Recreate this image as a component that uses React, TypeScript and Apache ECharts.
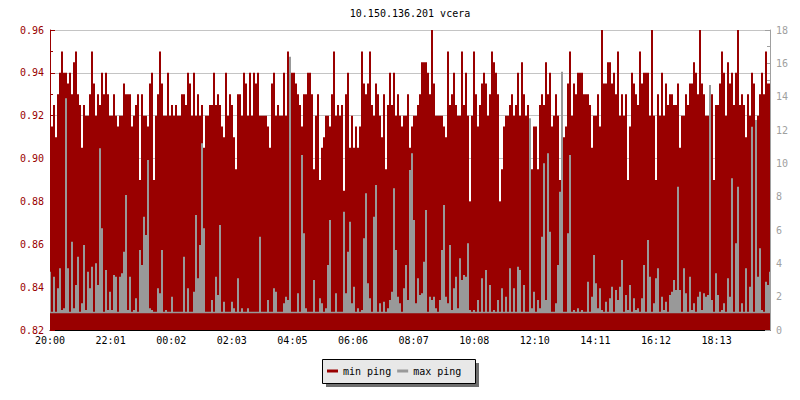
import React, { useEffect, useRef } from "react";
import * as echarts from "echarts";

const TITLE = "10.150.136.201 vcera";
const SERIES_NAMES = ["min ping", "max ping"];
const X_TICK_LABELS = [
  "20:00", "22:01", "00:02", "02:03", "04:05", "06:06",
  "08:07", "10:08", "12:10", "14:11", "16:12", "18:13",
];
const SPAN_MINUTES = 1440;
const TICK_STEP_MINUTES = 121.2;
const MAX_PING_FLOOR = 1.0;

// min ping, in microseconds (one sample every 4 minutes)
const MIN_PING_US = [
  940,915,925,910,930,940,950,940,940,935,
  940,930,945,950,930,925,905,925,920,920,
  930,950,935,920,930,925,940,930,940,930,
  920,920,930,920,915,920,920,935,930,930,
  930,915,920,925,930,890,930,920,920,915,
  935,940,890,920,930,950,935,920,920,940,
  920,925,920,925,920,920,930,930,925,940,
  935,920,940,920,930,920,925,905,920,920,
  925,925,940,925,930,925,915,910,940,920,
  930,925,910,895,930,930,920,940,935,920,
  940,920,940,935,940,920,920,920,920,915,
  905,935,940,920,925,920,920,940,920,950,
  915,940,940,935,930,925,915,930,930,940,
  940,930,895,920,930,890,905,910,920,920,
  915,930,950,920,925,920,925,885,930,940,
  905,920,905,915,905,915,950,935,930,935,
  950,925,920,935,930,920,910,930,895,925,
  940,925,940,920,930,920,915,920,920,930,
  905,915,920,920,925,930,945,945,945,940,
  930,960,935,920,920,920,920,915,910,950,
  925,930,940,925,920,920,950,925,940,920,
  880,920,950,930,915,925,935,940,935,920,
  930,950,945,940,930,880,895,915,920,920,
  925,930,920,925,940,920,945,930,920,925,
  915,895,915,915,895,925,930,925,945,930,
  940,915,920,930,920,890,905,910,915,935,
  950,920,935,930,940,940,940,930,930,930,
  925,905,920,920,930,915,960,935,935,945,
  945,935,940,930,950,920,930,920,930,890,
  915,940,935,930,925,950,935,940,940,940,
  920,960,920,890,930,920,940,920,935,925,
  930,930,925,925,935,905,920,920,930,925,
  935,935,945,940,930,960,935,930,920,920,
  920,930,890,925,925,935,950,940,920,945,
  935,940,925,940,960,925,930,925,910,930,
  920,940,935,915,920,930,940,930,950,935,
  935,
];

// max ping, in milliseconds (one sample every 4 minutes)
const MAX_PING_MS = [
  3.5,1.1,3.2,1.1,2.5,3.7,1.2,1.3,13.9,3.7,
  1.1,5.3,1.3,2.7,4.4,1.1,1.6,5.1,1.2,3.5,
  2.5,3.8,1.1,4.0,2.7,10.9,6.1,1.1,3.6,1.2,
  2.3,1.2,3.3,3.2,1.1,3.2,3.4,4.7,8.1,1.2,
  3.2,1.1,1.2,1.9,1.1,4.8,3.9,6.8,5.7,10.2,
  1.3,1.2,1.1,1.1,2.5,2.2,4.8,1.1,1.2,1.1,
  1.1,2.0,1.1,1.1,1.1,1.1,1.1,4.4,1.1,2.5,
  1.1,1.1,2.3,6.9,3.1,5.1,11.2,6.1,1.1,1.1,
  1.1,1.8,1.1,3.2,2.1,6.3,1.1,1.7,1.1,1.1,
  1.1,1.7,1.3,1.1,3.1,1.1,1.3,1.1,1.1,1.3,
  1.1,1.1,1.1,1.1,1.1,5.6,1.1,1.1,1.1,1.8,
  1.1,1.1,2.5,2.3,1.1,1.1,1.1,1.6,2.0,1.8,
  16.4,1.1,1.1,1.1,2.2,1.1,10.5,5.8,1.3,1.1,
  1.1,1.1,3.0,1.1,1.1,1.9,1.6,1.1,1.3,3.9,
  6.6,1.1,1.1,2.2,1.1,1.1,1.1,7.1,2.2,4.7,
  6.5,1.6,2.6,1.1,1.3,1.1,1.2,5.5,8.2,2.8,
  1.9,1.1,6.8,8.7,1.1,1.6,1.1,1.7,1.1,1.3,
  1.8,2.3,8.5,4.8,2.0,1.6,1.1,2.5,3.9,1.8,
  9.6,10.6,6.6,1.6,3.1,2.1,2.2,4.1,7.2,1.1,
  2.0,1.8,2.0,1.3,1.1,1.8,4.8,7.5,2.0,1.6,
  5.1,1.2,2.5,3.2,1.3,4.3,3.0,3.3,3.2,5.2,
  1.2,1.1,1.2,1.1,1.8,1.1,3.1,1.1,3.6,1.1,
  2.7,1.1,1.2,1.1,1.8,1.1,2.5,1.1,2.0,1.1,
  3.7,1.1,2.5,1.1,3.8,3.6,1.1,2.7,1.1,1.1,
  12.7,1.3,2.3,1.1,1.8,1.3,5.6,10.0,1.8,10.6,
  5.9,1.1,1.1,1.6,3.9,8.3,15.5,1.1,1.1,5.8,
  10.5,1.1,1.2,1.1,1.3,1.1,1.2,1.1,1.1,2.9,
  1.1,2.0,4.5,2.8,1.3,2.5,1.2,1.1,1.7,1.1,
  1.9,2.6,1.1,2.4,1.8,2.6,4.2,1.1,2.1,1.2,
  2.7,1.1,1.9,1.2,1.3,1.1,1.9,3.9,1.1,5.4,
  3.2,1.1,1.6,3.1,3.7,1.1,2.0,1.2,1.7,1.1,
  2.1,2.3,3.0,2.4,8.6,2.4,1.1,3.7,2.2,1.1,
  3.2,1.2,1.6,1.1,2.0,2.3,1.2,2.2,2.0,2.1,
  14.7,1.8,1.1,3.4,2.1,1.1,1.2,1.6,1.1,3.1,
  2.0,9.1,1.1,5.2,8.6,1.1,1.6,1.1,3.7,1.1,
  2.6,12.2,1.1,12.6,3.2,4.9,1.2,1.1,2.9,2.7,
  3.5,
];

const FONT = '"DejaVu Sans Mono", monospace';
const RED = "#990000";
const GRAY = "#999999";

export default function App() {
  const ref = useRef<HTMLDivElement>(null);

  useEffect(() => {
    if (!ref.current) return;
    const chart = echarts.init(ref.current, null, { renderer: "svg" });

    const stepMin = SPAN_MINUTES / (MIN_PING_US.length - 1);
    const minData = MIN_PING_US.map((v, i) => [i * stepMin, v / 1000]);
    const stepMax = SPAN_MINUTES / (MAX_PING_MS.length - 1);
    const maxData = MAX_PING_MS.map((v, i) => [i * stepMax, v]);

    chart.setOption({
      animation: false,
      backgroundColor: "#ffffff",
      grid: { left: 50, right: 30, top: 30, bottom: 70, containLabel: false },
      graphic: [
        {
          type: "text",
          x: 410,
          y: 8,
          z: 10,
          style: {
            text: TITLE,
            font: `10px ${FONT}`,
            fill: "#000",
            align: "center",
            verticalAlign: "top",
          },
        },
        {
          type: "rect",
          z: 1,
          shape: { x: 326, y: 363, width: 153, height: 24 },
          style: { fill: "#6e6e6e" },
        },
        {
          type: "rect",
          z: 2,
          shape: { x: 322.5, y: 359.5, width: 153, height: 24 },
          style: { fill: "#e8e8e8", stroke: "#000", lineWidth: 1 },
        },
      ],
      legend: {
        data: SERIES_NAMES,
        left: 327,
        top: 366,
        padding: 0,
        itemGap: 6,
        itemWidth: 11,
        itemHeight: 3,
        icon: "rect",
        selectedMode: false,
        z: 20,
        textStyle: { fontFamily: FONT, fontSize: 10, color: "#000" },
      },
      xAxis: {
        type: "value",
        min: 0,
        max: SPAN_MINUTES,
        interval: TICK_STEP_MINUTES,
        axisLine: { show: true, onZero: false, lineStyle: { color: "#000", width: 1 } },
        axisTick: { show: true, inside: true, length: 5, lineStyle: { color: "#000" } },
        axisLabel: {
          show: true,
          margin: 5,
          showMaxLabel: false,
          color: "#000",
          fontFamily: FONT,
          fontSize: 10,
          formatter: (v: number) => {
            const k = Math.round(v / TICK_STEP_MINUTES);
            return X_TICK_LABELS[k] ?? "";
          },
        },
        splitLine: { show: false },
      },
      yAxis: [
        {
          type: "value",
          position: "left",
          min: 0.82,
          max: 0.96,
          interval: 0.02,
          axisLine: { show: true, lineStyle: { color: RED, width: 1 } },
          axisTick: { show: true, inside: true, length: 5, lineStyle: { color: RED } },
          minorTick: { show: true, splitNumber: 2, length: 3, lineStyle: { color: RED } },
          axisLabel: {
            color: RED,
            fontFamily: FONT,
            fontSize: 10,
            margin: 6,
            formatter: (v: number) => v.toFixed(2),
          },
          splitLine: { show: true, lineStyle: { color: "#c4c4c4", width: 1 } },
        },
        {
          type: "value",
          position: "right",
          min: 0,
          max: 18,
          interval: 2,
          axisLine: { show: true, lineStyle: { color: "#a0a0a0", width: 1 } },
          axisTick: { show: true, inside: true, length: 5, lineStyle: { color: "#a0a0a0" } },
          minorTick: { show: true, splitNumber: 2, length: 3, lineStyle: { color: "#a0a0a0" } },
          axisLabel: { color: "#a0a0a0", fontFamily: FONT, fontSize: 10, margin: 6 },
          splitLine: { show: false },
        },
      ],
      series: [
        {
          name: SERIES_NAMES[0],
          type: "line",
          yAxisIndex: 0,
          data: minData,
          step: "middle",
          symbol: "none",
          showSymbol: false,
          lineStyle: { width: 0, color: RED },
          itemStyle: { color: RED },
          areaStyle: { color: RED, opacity: 1, origin: "start" },
          z: 2,
        },
        {
          name: SERIES_NAMES[1],
          type: "line",
          yAxisIndex: 1,
          data: maxData,
          step: "middle",
          symbol: "none",
          showSymbol: false,
          lineStyle: { width: 0, color: GRAY },
          itemStyle: { color: GRAY },
          areaStyle: { color: GRAY, opacity: 1, origin: MAX_PING_FLOOR },
          z: 3,
        },
      ],
    });

    return () => chart.dispose();
  }, []);

  return (
    <div
      ref={ref}
      style={{ position: "fixed", left: 0, top: 0, width: 800, height: 400 }}
    />
  );
}
